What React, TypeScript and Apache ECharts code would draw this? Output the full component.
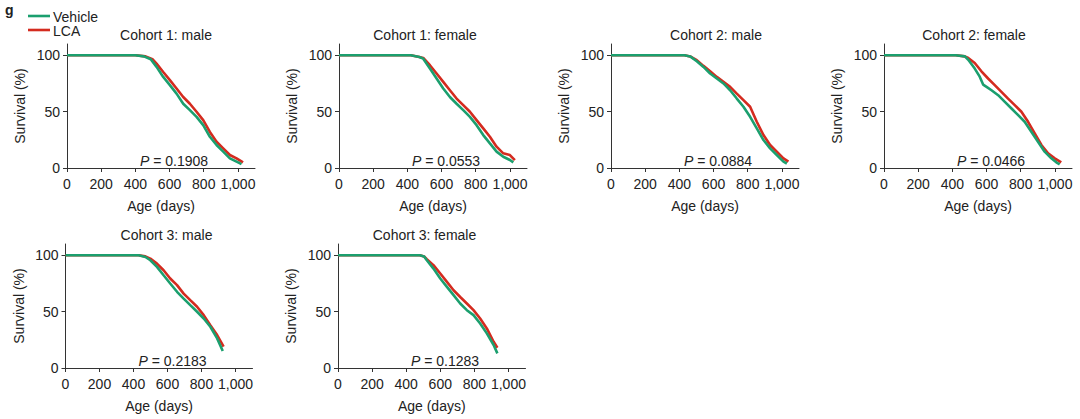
import React, { useEffect, useRef } from "react";
import * as echarts from "echarts";

// ---- data (age in days, survival %) ----
const c1MaleVehicle = [[0,100],[400,100],[450,99],[490,96.5],[524,89.7],[563,80.8],[602,73.5],[641,66],[680,57],[719,51.3],[758,45.4],[797,38],[836,27.7],[875,20.4],[914,14.5],[953,8.6],[992,5.6],[1021,3.5]];
const c1MaleLCA = [[0,100],[400,100],[460,99],[500,96.5],[524,92.6],[563,85.2],[602,77.9],[641,70.5],[680,63],[719,57],[758,49.9],[797,42.5],[836,32],[875,23.3],[914,17.4],[953,11.5],[992,8.6],[1030,5]];
const c1FemaleVehicle = [[0,100],[420,100],[470,98.5],[493,97],[532,88.2],[571,79.4],[610,70.5],[649,63],[688,57],[727,51.3],[766,45.4],[805,38],[844,29.2],[883,21.8],[922,14.5],[961,10],[1000,7.1],[1020,5]];
const c1FemaleLCA = [[0,100],[420,100],[470,98.5],[493,97.6],[532,91.2],[571,83.8],[610,76.4],[649,69],[688,61.6],[727,55.8],[766,49.9],[805,42.5],[844,35.1],[883,27.7],[922,18.9],[961,13],[1000,11.5],[1029,7]];
const c2MaleVehicle = [[0,100],[430,100],[463,99],[502,94.7],[541,89.7],[580,83.8],[619,79.4],[658,75],[697,69],[736,61.6],[775,54.3],[814,45.4],[853,35.1],[892,24.8],[931,17.4],[970,11.5],[1009,5.6],[1029,4]];
const c2MaleLCA = [[0,100],[430,100],[463,99],[502,95.6],[541,90.6],[580,85.8],[619,80.8],[658,76.4],[697,72],[736,66],[775,60.2],[814,54.3],[853,41],[892,29.2],[931,20.4],[970,14.5],[1009,8.6],[1038,5.6]];
const c2FemaleVehicle = [[0,100],[420,100],[473,99],[493,96],[531,88.2],[560,81],[580,74],[600,72],[629,69],[668,64.6],[707,58.7],[746,52.8],[785,46.9],[823,41],[862,32.2],[901,23.3],[940,14.5],[979,8.6],[1008,5],[1028,3.3]];
const c2FemaleLCA = [[0,100],[420,100],[473,99],[493,97.6],[531,93.2],[570,85.8],[609,79.4],[648,73.5],[687,67.6],[726,61.6],[765,55.8],[804,49.9],[843,41],[882,30.7],[921,20.4],[960,13],[999,8.6],[1037,5]];
const c3MaleVehicle = [[0,100],[430,100],[470,98.5],[499,95.6],[538,89.7],[577,82.3],[616,75],[656,67.6],[695,61.6],[734,55.8],[774,49.9],[813,43.9],[852,36.6],[892,26.3],[925,15]];
const c3MaleLCA = [[0,100],[430,100],[470,99],[499,97],[538,92.6],[577,86.7],[616,79.4],[656,73.5],[695,66],[734,60.2],[774,54.3],[813,46.9],[852,38],[892,29.2],[930,19]];
const c3FemaleVehicle = [[0,100],[480,100],[505,99],[521,95.6],[560,88.2],[600,79.4],[639,72],[678,64.6],[717,57.2],[756,51.3],[795,46.9],[834,39.5],[873,30.7],[913,20.4],[935,13]];
const c3FemaleLCA = [[0,100],[480,100],[505,99],[521,96.5],[560,91.2],[600,83.8],[639,76.4],[678,69],[717,63],[756,57.2],[795,51.3],[834,43.9],[873,35.1],[913,23.3],[935,18]];

const panelTitles = ["Cohort 1: male", "Cohort 1: female", "Cohort 2: male", "Cohort 2: female", "Cohort 3: male", "Cohort 3: female"];
const pValues = ["0.1908", "0.0553", "0.0884", "0.0466", "0.2183", "0.1283"];
const vehicleSeries = [c1MaleVehicle, c1FemaleVehicle, c2MaleVehicle, c2FemaleVehicle, c3MaleVehicle, c3FemaleVehicle];
const lcaSeries = [c1MaleLCA, c1FemaleLCA, c2MaleLCA, c2FemaleLCA, c3MaleLCA, c3FemaleLCA];
const xTicks = [0, 200, 400, 600, 800, 1000];
const yTicks = [0, 50, 100];
const seriesNames = ["Vehicle", "LCA"];

// ---- layout ----
const GREEN = "#1b9f6e";
const RED = "#d42b1f";
const TEXT = "#222";
const FONT = "Liberation Sans, Arial, sans-serif";
const layout = [
  { left: 67, top: 44, width: 188, titleX: 166 },
  { left: 339, top: 44, width: 188, titleX: 425 },
  { left: 611, top: 44, width: 188, titleX: 716 },
  { left: 884, top: 44, width: 188, titleX: 974 },
  { left: 65.5, top: 244, width: 187, titleX: 166.5 },
  { left: 338, top: 244, width: 187.5, titleX: 424.5 },
];
const GRID_H = 124;

export default function App() {
  const ref = useRef<HTMLDivElement>(null);
  useEffect(() => {
    if (!ref.current) return;
    const chart = echarts.init(ref.current, null, { renderer: "svg" });
    const grids = layout.map((l) => ({ left: l.left, top: l.top, width: l.width, height: GRID_H, containLabel: false }));
    const xAxes = layout.map((_, i) => ({
      type: "value",
      gridIndex: i,
      min: 0,
      max: 1100,
      splitLine: { show: false },
      axisLine: { show: true, onZero: false, lineStyle: { color: "#333", width: 1 } },
      axisTick: { show: true, length: 4, customValues: xTicks, lineStyle: { color: "#333" } },
      axisLabel: {
        customValues: xTicks,
        fontSize: 14,
        color: TEXT,
        fontFamily: FONT,
        margin: 9,
        formatter: (v: number) => (v >= 1000 ? v.toLocaleString("en-US") : String(v)),
      },
      name: "Age (days)",
      nameLocation: "middle",
      nameGap: 31,
      nameTextStyle: { fontSize: 14, color: TEXT, fontFamily: FONT },
    }));
    const yAxes = layout.map((_, i) => ({
      type: "value",
      gridIndex: i,
      min: 0,
      max: 110,
      splitLine: { show: false },
      axisLine: { show: true, onZero: false, lineStyle: { color: "#333", width: 1 } },
      axisTick: { show: true, length: 4, customValues: yTicks, lineStyle: { color: "#333" } },
      axisLabel: { customValues: yTicks, fontSize: 14, color: TEXT, fontFamily: FONT, margin: 7 },
      name: "Survival (%)",
      nameLocation: "middle",
      nameGap: 40,
      nameRotate: 90,
      nameTextStyle: { fontSize: 14, color: TEXT, fontFamily: FONT },
    }));
    const series: any[] = [];
    layout.forEach((_, i) => {
      series.push({
        type: "line",
        name: seriesNames[1],
        xAxisIndex: i,
        yAxisIndex: i,
        data: lcaSeries[i],
        showSymbol: false,
        symbol: "none",
        lineStyle: { color: RED, width: 2.6 },
        itemStyle: { color: RED },
      });
      series.push({
        type: "line",
        name: seriesNames[0],
        xAxisIndex: i,
        yAxisIndex: i,
        data: vehicleSeries[i],
        showSymbol: false,
        symbol: "none",
        lineStyle: { color: GREEN, width: 2.6 },
        itemStyle: { color: GREEN },
      });
    });
    const graphic: any[] = [];
    layout.forEach((l, i) => {
      graphic.push({
        type: "text",
        x: l.titleX,
        y: l.top - 9,
        style: { text: panelTitles[i], fontSize: 14, fontFamily: FONT, fill: TEXT, align: "center", verticalAlign: "middle" },
      });
      graphic.push({
        type: "text",
        x: l.left + 107,
        y: l.top + GRID_H - 7,
        style: {
          text: "{i|P} = " + pValues[i],
          fontSize: 14,
          fontFamily: FONT,
          fill: TEXT,
          align: "center",
          verticalAlign: "middle",
          rich: { i: { fontStyle: "italic", fontSize: 14, fontFamily: FONT, fill: TEXT } },
        },
      });
    });
    graphic.push({ type: "text", x: 5, y: 10, style: { text: "g", fontSize: 14, fontWeight: "bold", fontFamily: FONT, fill: TEXT, align: "left", verticalAlign: "middle" } });
    graphic.push({ type: "line", shape: { x1: 28, y1: 16, x2: 50, y2: 16 }, style: { stroke: GREEN, lineWidth: 2.6 } });
    graphic.push({ type: "text", x: 53, y: 16.5, style: { text: seriesNames[0], fontSize: 14, fontFamily: FONT, fill: TEXT, align: "left", verticalAlign: "middle" } });
    graphic.push({ type: "line", shape: { x1: 28, y1: 30, x2: 50, y2: 30 }, style: { stroke: RED, lineWidth: 2.6 } });
    graphic.push({ type: "text", x: 53, y: 30.5, style: { text: seriesNames[1], fontSize: 14, fontFamily: FONT, fill: TEXT, align: "left", verticalAlign: "middle" } });

    chart.setOption({
      animation: false,
      backgroundColor: "#fff",
      textStyle: { fontFamily: FONT },
      grid: grids,
      xAxis: xAxes,
      yAxis: yAxes,
      series,
      graphic,
    });
    return () => chart.dispose();
  }, []);
  return <div ref={ref} style={{ position: "absolute", left: 0, top: 0, width: 1080, height: 419 }} />;
}
